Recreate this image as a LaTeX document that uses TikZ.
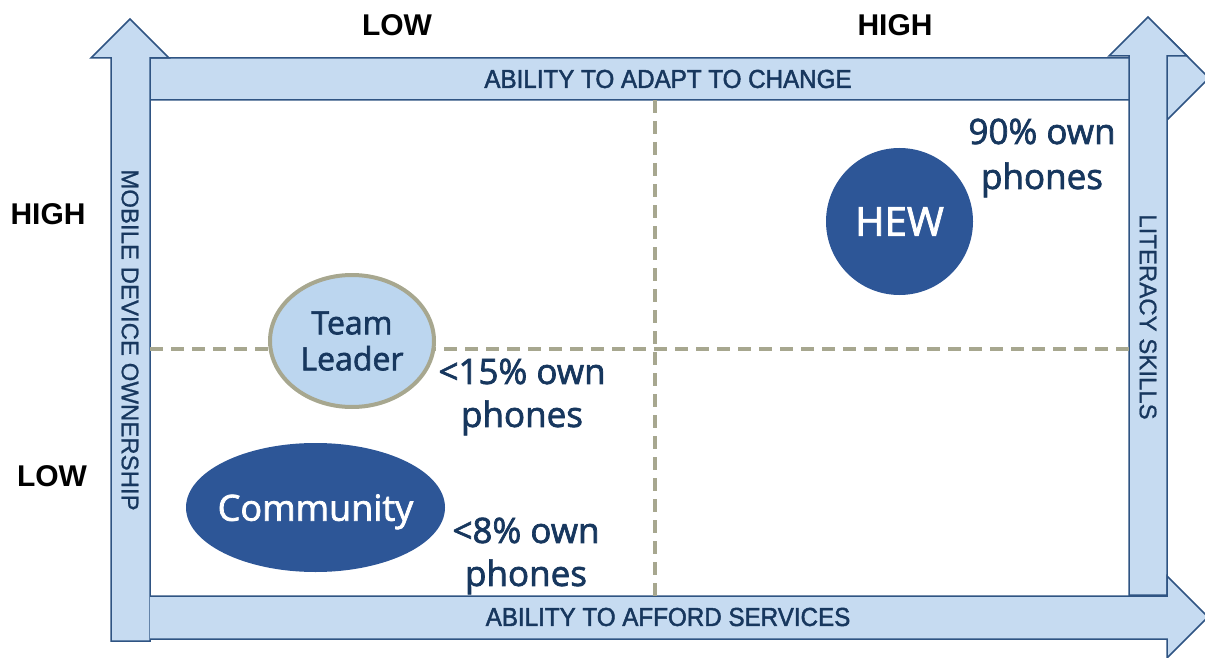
\documentclass[tikz,border=0pt]{standalone}
\usepackage{fontspec}
\setmainfont{Liberation Sans}
\newfontfamily\bubblefont[FakeBold=2]{Open Sans}
\newfontfamily\axisfont[FakeStretch=0.93,FakeBold=1.8]{Liberation Sans}
\newfontfamily\sidefont[FakeBold=0.8]{Liberation Sans}
\usepackage{tikz}
\usetikzlibrary{shapes.geometric}
\definecolor{barfill}{HTML}{C6DBF1}
\definecolor{barline}{HTML}{2F5483}
\definecolor{navy}{HTML}{17375E}
\definecolor{bubble}{HTML}{2D5697}
\definecolor{leaderfill}{HTML}{BCD6EF}
\definecolor{olive}{HTML}{A7A78F}
\tikzset{
  bar/.style={draw=barline, fill=barfill, line width=1.5pt, line join=miter},
  axislabel/.style={text=navy, font=\axisfont\fontsize{26}{30}\selectfont},
  sidelabel/.style={text=navy, rotate=-90, font=\sidefont\fontsize{24}{28}\selectfont},
  levellabel/.style={font=\bfseries\fontsize{30}{34}\selectfont},
  ownlabel/.style={text=navy, align=center, font=\bubblefont\fontsize{35}{#1}\selectfont},
  divider/.style={draw=olive, line width=4pt, dash pattern=on 13pt off 8pt},
}
\begin{document}
\begin{tikzpicture}[x=1pt,y=-1pt]
        \useasboundingbox (0,0) rectangle (1205,658);
        \draw[bar] (150,58) -- (1167,58) -- (1167,36) -- (1209,78) -- (1167,120) -- (1167,100) -- (150,100) -- cycle;
        \draw[bar] (1129,595) -- (1129,56) -- (1109,56) -- (1148,17) -- (1187,56) -- (1167,56) -- (1167,595) -- cycle;
        \draw[bar] (111,641) -- (111,58) -- (91,58) -- (130,19) -- (169,58) -- (150,58) -- (150,641) -- cycle;
        \draw[bar] (150,596) -- (1167,596) -- (1167,576) -- (1208,617) -- (1167,658) -- (1167,639) -- (150,639);
        \node[axislabel] (adapt) at (668,79) {ABILITY TO ADAPT TO CHANGE};
        \node[axislabel] (afford) at (668,617) {ABILITY TO AFFORD SERVICES};
        \node[sidelabel] (mobile) at (130,340) {MOBILE DEVICE OWNERSHIP};
        \node[sidelabel] (literacy) at (1148,317) {LITERACY SKILLS};
        \node[levellabel] (lowx) at (397,25) {LOW};
        \node[levellabel] (highx) at (895,25) {HIGH};
        \node[levellabel] (highy) at (48,214) {HIGH};
        \node[levellabel] (lowy) at (52,476) {LOW};
        \coordinate (midleft) at (150,349);
        \coordinate (midright) at (1129,349);
        \coordinate (midtop) at (655,100);
        \coordinate (midbottom) at (655,596);
        \draw[divider] (midleft) -- (midright);
        \draw[divider] (midtop) -- (midbottom);
        \node[ellipse, draw=olive, line width=4pt, fill=leaderfill, minimum width=164pt, minimum height=132pt] (leader) at (352,341) {};
        \node[text=navy, align=center, font=\bubblefont\fontsize{32}{36}\selectfont] (leadertext) at (leader) {Team\\Leader};
        \node[circle, fill=bubble, minimum size=147pt] (hew) at (899.5,221.5) {};
        \node[text=white, font=\bubblefont\fontsize{40}{44}\selectfont] (hewtext) at (hew) {HEW};
        \node[ellipse, fill=bubble, minimum width=259pt, minimum height=129pt] (community) at (315.5,507.5) {};
        \node[text=white, text depth=0pt, font=\bubblefont\fontsize{36}{40}\selectfont] (communitytext) at (community) {Community};
        \node[ownlabel=45] (hewown) at (1042,158) {90\% own\\phones};
        \node[ownlabel=43] (leaderown) at (522,397) {<15\% own\\phones};
        \node[ownlabel=43] (communityown) at (526,556) {<8\% own\\phones};
      \end{tikzpicture}
\end{document}
